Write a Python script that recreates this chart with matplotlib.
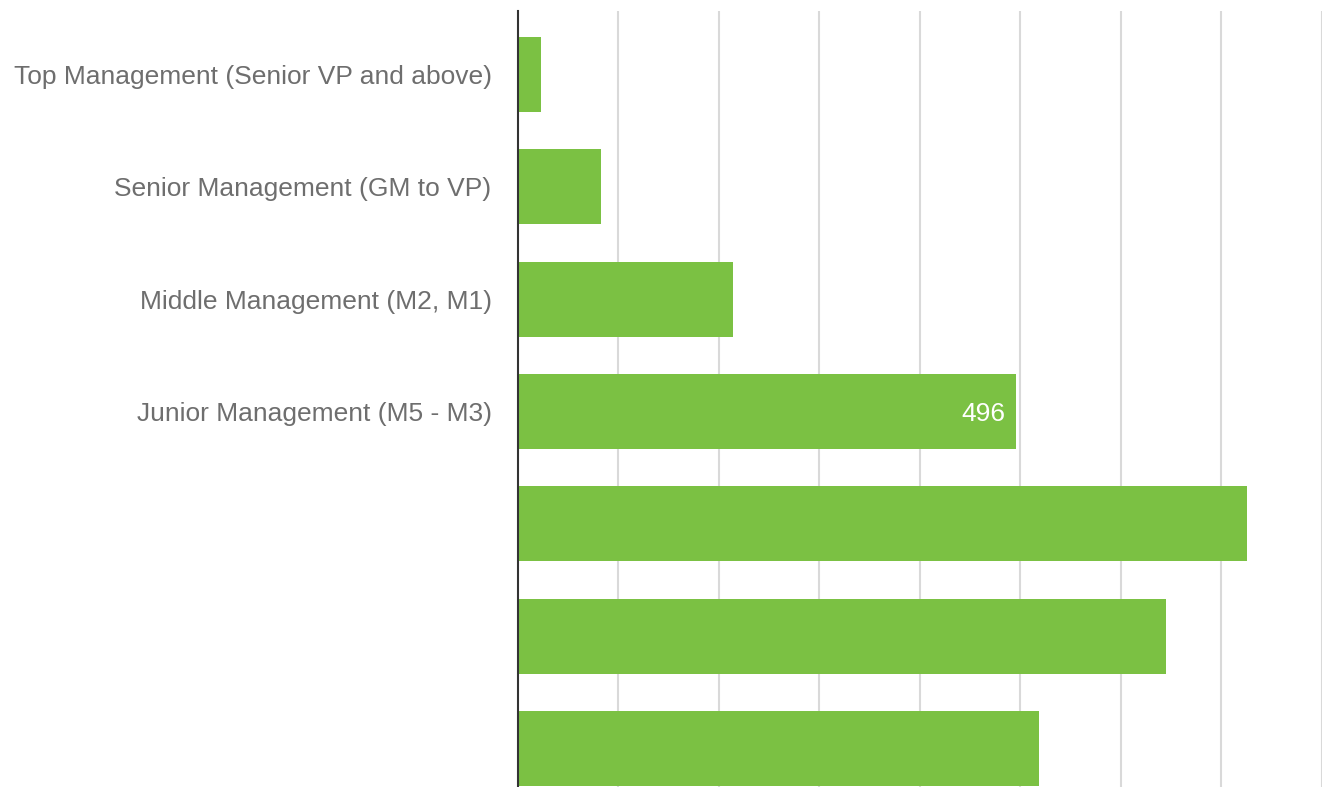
import matplotlib.pyplot as plt

# headcount by management level (last three rows carry no label)
categories = [
    "Top Management (Senior VP and above)",
    "Senior Management (GM to VP)",
    "Middle Management (M2, M1)",
    "Junior Management (M5 - M3)",
    "",
    "",
    "",
]
values = [23, 83, 214, 496, 726, 645, 519]
labelled_index = 3  # only this bar shows its value

bar_color = "#7BC143"
text_color = "#6E6E6E"

fig = plt.figure(figsize=(13.22, 7.87), dpi=100)
ax = fig.add_axes([518 / 1322, 0.0, (1321.5 - 518) / 1322, 1 - 11 / 787])

ypos = list(range(len(values)))
ax.barh(ypos, values, height=0.668, color=bar_color, zorder=2)

ax.set_xlim(0, 800)
ax.set_ylim(6.343, -0.565)
ax.set_xticks(range(100, 801, 100))
ax.xaxis.grid(True, color="#D9D9D9", linewidth=1.5, zorder=0)
ax.tick_params(axis="x", length=0, labelbottom=False)

ax.set_yticks(ypos)
ax.set_yticklabels(categories, fontsize=19, color=text_color, family="Liberation Sans")
ax.tick_params(axis="y", length=0, pad=19)

for side in ["top", "right", "bottom"]:
    ax.spines[side].set_visible(False)
ax.spines["left"].set_color("#333333")
ax.spines["left"].set_linewidth(1.5)
ax.spines["left"].set_zorder(3)

v = values[labelled_index]
ax.text(v - 11, labelled_index + 0.025, str(v), color="white", fontsize=19,
        family="Liberation Sans", ha="right", va="center", zorder=3)

fig.savefig("out.png", dpi=100)
